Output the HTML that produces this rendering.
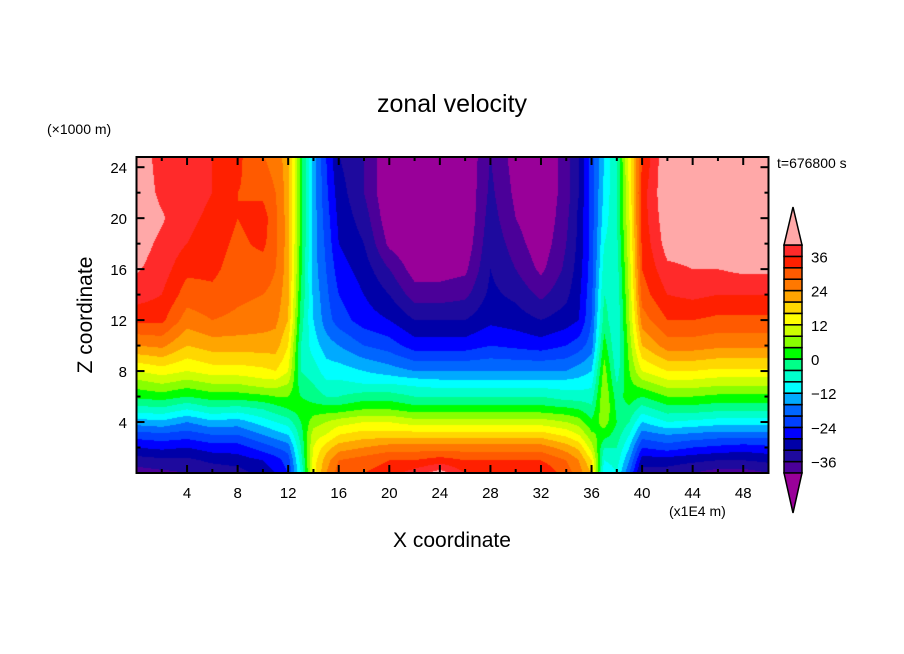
<!DOCTYPE html>
<html><head><meta charset="utf-8">
<style>
html,body{margin:0;padding:0;background:#fff;}
#wrap{position:relative;width:904px;height:654px;overflow:hidden;font-family:"Liberation Sans","DejaVu Sans",sans-serif;}
canvas{position:absolute;left:0;top:0;}
svg{position:absolute;left:0;top:0;}
</style></head>
<body>
<div id="wrap">
<canvas id="field" width="904" height="654"></canvas>
<svg id="ov" width="904" height="654"></svg>
</div>
<script>
// ---- data ----
const xCoords = [0,2,4,6,8,10,11,12,13,14,15,16,18,20,22,24,26,28,30,32,34,35,36,37,38,39,40,42,44,46,48,50];
const zCoords = [0,1,2,3,4,5,6,7,8,10,12,14,16,18,20,22,25];
const uColumns = [
[-38,-34,-28,-22,-14,-6,1,6,12,24,33,38,40.5,42,43,43,43],
[-37,-33,-27,-21,-13,-5,2,8,14,25,33,36,38,39,40.5,39,38],
[-36,-33,-28,-22,-16,-8,0,6,12,20,26,30,33,36,37,38,38],
[-35,-31,-26,-20,-13,-5,2,8,14,22,28,31,33,34,35,36,36],
[-34,-30,-26,-20,-14,-6,2,8,14,22,27,29,30,31,32,32,33],
[-30,-28,-22,-16,-10,-4,3,10,15,22,26,28,30,33,34,31,28],
[-28,-26,-20,-14,-8,-2,4,10,16,22,25,27,28,29,29,28,26],
[-24,-22,-18,-12,-6,0,4,8,12,16,20,21,22,22,22,22,22],
[-8,-6,-4,-2,0,2,0,-2,-4,-4,-2,0,1,2,2,2,2],
[14,14,12,10,6,2,-2,-4,-6,-10,-12,-13,-14,-14,-14,-14,-14],
[24,22,18,12,8,2,-4,-7,-10,-14,-18,-19,-20,-21,-22,-23,-24],
[30,28,22,16,10,2,-4,-7,-10,-16,-22,-24,-26,-28,-29,-30,-32],
[32,30,24,18,12,4,-2,-8,-12,-20,-26,-28,-30,-32,-34,-36,-36],
[34,32,26,18,12,4,-2,-8,-14,-22,-28,-32,-36,-41,-43,-44,-44],
[38,32,26,18,10,2,-4,-9,-16,-26,-32,-38,-42,-44,-45,-46,-46],
[42,34,26,18,10,2,-4,-10,-16,-26,-32,-38,-42,-44,-45,-46,-46],
[36,32,26,18,10,2,-4,-10,-16,-26,-32,-37,-41,-43,-44,-44,-44],
[36,32,26,18,10,2,-4,-10,-16,-24,-29,-31,-32,-33,-34,-35,-36],
[36,32,26,18,10,2,-4,-10,-16,-25,-30,-33,-36,-38,-40,-41,-42],
[36,32,26,18,10,2,-4,-10,-16,-26,-32,-37,-41,-43,-44,-44,-44],
[30,28,22,15,8,1,-6,-10,-16,-24,-30,-33,-35,-36,-37,-38,-38],
[26,24,19,12,6,0,-6,-10,-14,-22,-28,-29,-30,-31,-31,-32,-32],
[20,16,10,5,1,-3,-6,-9,-12,-18,-20,-21,-22,-22,-22,-22,-22],
[-12,-8,-4,2,6,8,8,7,6,2,-2,-4,-6,-8,-10,-11,-12],
[-8,-6,-4,-2,0,-1,-2,-4,-6,-8,-8,-7,-6,-5,-4,-4,-4],
[-20,-16,-12,-8,-4,-1,2,3,4,6,8,9,10,11,12,13,14],
[-34,-30,-24,-18,-12,-6,0,6,12,20,26,30,32,33,34,34,32],
[-34,-30,-22,-16,-8,-2,4,10,16,26,32,36,39,42,43,44,44],
[-36,-31,-24,-17,-9,-2,4,10,16,26,32,37,40,42,43,44,44],
[-38,-32,-25,-18,-10,-3,3,9,15,25,31,36,40,40.5,42,44,44],
[-38,-32,-26,-18,-10,-3,3,9,15,25,31,36,41,42,43,44,44],
[-36,-31,-25,-18,-10,-3,3,9,15,25,31,36,41,42,43,44,44]
];
const levels = [-40,-36,-32,-28,-24,-20,-16,-12,-8,-4,0,4,8,12,16,20,24,28,32,36,40];
const levelColors = ["#990099","#4b0099","#1e0a9e","#0000a8","#0000ff","#0040ff","#0066ff","#00aaff","#00ffff","#00ffcc","#00ff88","#00ff00","#88ff00","#ccff00","#ffff00","#ffd700","#ffa500","#ff7800","#ff5a00","#ff2000","#ff2a2a","#ffa8a8"];
const xTicks = [4,8,12,16,20,24,28,32,36,40,44,48];
const zTicks = [4,8,12,16,20,24];
const cbLabels = [36,24,12,0,-12,-24,-36];

// ---- axes ----
const PL=136.5, PR=768.5, PT=157, PB=473;
const xMin=0,xMax=50,zMin=0,zMax=24.8;
const sx = v => PL + (v-xMin)/(xMax-xMin)*(PR-PL);
const sz = v => PB - (v-zMin)/(zMax-zMin)*(PB-PT);

function findIdx(arr,v){ let i=0; while(i<arr.length-2 && v>arr[i+1]) i++; return i; }
function val(x,z){
  const i=findIdx(xCoords,x), j=findIdx(zCoords,z);
  const tx=Math.min(1,Math.max(0,(x-xCoords[i])/(xCoords[i+1]-xCoords[i])));
  const tz=Math.min(1,Math.max(0,(z-zCoords[j])/(zCoords[j+1]-zCoords[j])));
  const a=uColumns[i][j],b=uColumns[i+1][j],c=uColumns[i][j+1],d=uColumns[i+1][j+1];
  return (a*(1-tx)+b*tx)*(1-tz)+(c*(1-tx)+d*tx)*tz;
}
function colorOf(v){ let k=0; while(k<levels.length && v>=levels[k]) k++; return levelColors[k]; }
function hex(c){return [parseInt(c.substr(1,2),16),parseInt(c.substr(3,2),16),parseInt(c.substr(5,2),16)];}

const cv=document.getElementById('field'), ctx=cv.getContext('2d');
const x0=Math.round(PL), x1=Math.round(PR), y0=Math.round(PT), y1=Math.round(PB);
const img=ctx.createImageData(x1-x0,y1-y0);
for(let py=y0;py<y1;py++){
  const z=zMin+(PB-(py+0.5))/(PB-PT)*(zMax-zMin);
  for(let px=x0;px<x1;px++){
    const x=xMin+(px+0.5-PL)/(PR-PL)*(xMax-xMin);
    const rgb=hex(colorOf(val(x,z)));
    const o=((py-y0)*(x1-x0)+(px-x0))*4;
    img.data[o]=rgb[0];img.data[o+1]=rgb[1];img.data[o+2]=rgb[2];img.data[o+3]=255;
  }
}
ctx.putImageData(img,x0,y0);

// ---- overlay ----
const NS="http://www.w3.org/2000/svg", ov=document.getElementById('ov');
function mk(tag,attrs,parent){const e=document.createElementNS(NS,tag);for(const k in attrs)e.setAttribute(k,attrs[k]);(parent||ov).appendChild(e);return e;}
function txt(s,x,y,size,anchor,extra){const t=mk('text',Object.assign({x:x,y:y,'font-size':size,'text-anchor':anchor||'middle',fill:'#000','font-family':'Liberation Sans, DejaVu Sans, sans-serif'},extra||{}));t.textContent=s;return t;}

const frame=mk('rect',{x:PL,y:PT,width:PR-PL,height:PB-PT,fill:'none',stroke:'#000','stroke-width':2});



for(let v=2;v<50;v+=2){
  const major=v%4===0, L=major?8:4, X=sx(v);
  const t1=mk('line',{x1:X,x2:X,y1:PB,y2:PB-L,stroke:'#000','stroke-width':2});
  
  
  const t2=mk('line',{x1:X,x2:X,y1:PT,y2:PT+L,stroke:'#000','stroke-width':2});
  
  
}
for(let v=2;v<=24;v+=2){
  const major=v%4===0, L=major?8:4, Y=sz(v);
  const t1=mk('line',{x1:PL,x2:PL+L,y1:Y,y2:Y,stroke:'#000','stroke-width':2});
  
  
  const t2=mk('line',{x1:PR,x2:PR-L,y1:Y,y2:Y,stroke:'#000','stroke-width':2});
  
  
}
xTicks.forEach(v=>{
  const t=txt(String(v),sx(v),498,15);
  
  
});
zTicks.forEach(v=>{
  const t=txt(String(v),127,sz(v)+6,15,'end');
  
  
});

let t;
t=txt('zonal velocity',452,112,25);


t=txt('(\u00d71000 m)',47,134,14,'start');


t=txt('t=676800 s',777,168,14,'start');


t=txt('(x1E4 m)',669,516,14,'start');


t=txt('X coordinate',452,547,21);


t=txt('Z coordinate',0,0,21,'middle',{transform:'translate(92,315) rotate(-90)'});



// ---- colorbar ----
const CBL=784, CBR=802, CBT=245, CBB=473;
const nBox=levels.length-1;
const boxH=(CBB-CBT)/nBox;
const cbY = v => CBT + (levels[levels.length-1]-v)/(levels[levels.length-1]-levels[0])*(CBB-CBT);
for(let k=0;k<nBox;k++){
  const hi=levels[k+1];
  const r=mk('rect',{x:CBL,y:cbY(hi),width:CBR-CBL,height:boxH,fill:levelColors[k+1],stroke:'#000','stroke-width':1.5});
  
  
}
const triTop=mk('polygon',{points:`${CBL},${CBT} ${CBR},${CBT} ${(CBL+CBR)/2},207`,fill:levelColors[levelColors.length-1],stroke:'#000','stroke-width':1.5});


const triBot=mk('polygon',{points:`${CBL},${CBB} ${CBR},${CBB} ${(CBL+CBR)/2},513`,fill:levelColors[0],stroke:'#000','stroke-width':1.5});


cbLabels.forEach(v=>{
  const l=txt(v<0?'\u2212'+Math.abs(v):String(v),811,cbY(v)+6,15,'start');
  
  
});
</script>
</body></html>
